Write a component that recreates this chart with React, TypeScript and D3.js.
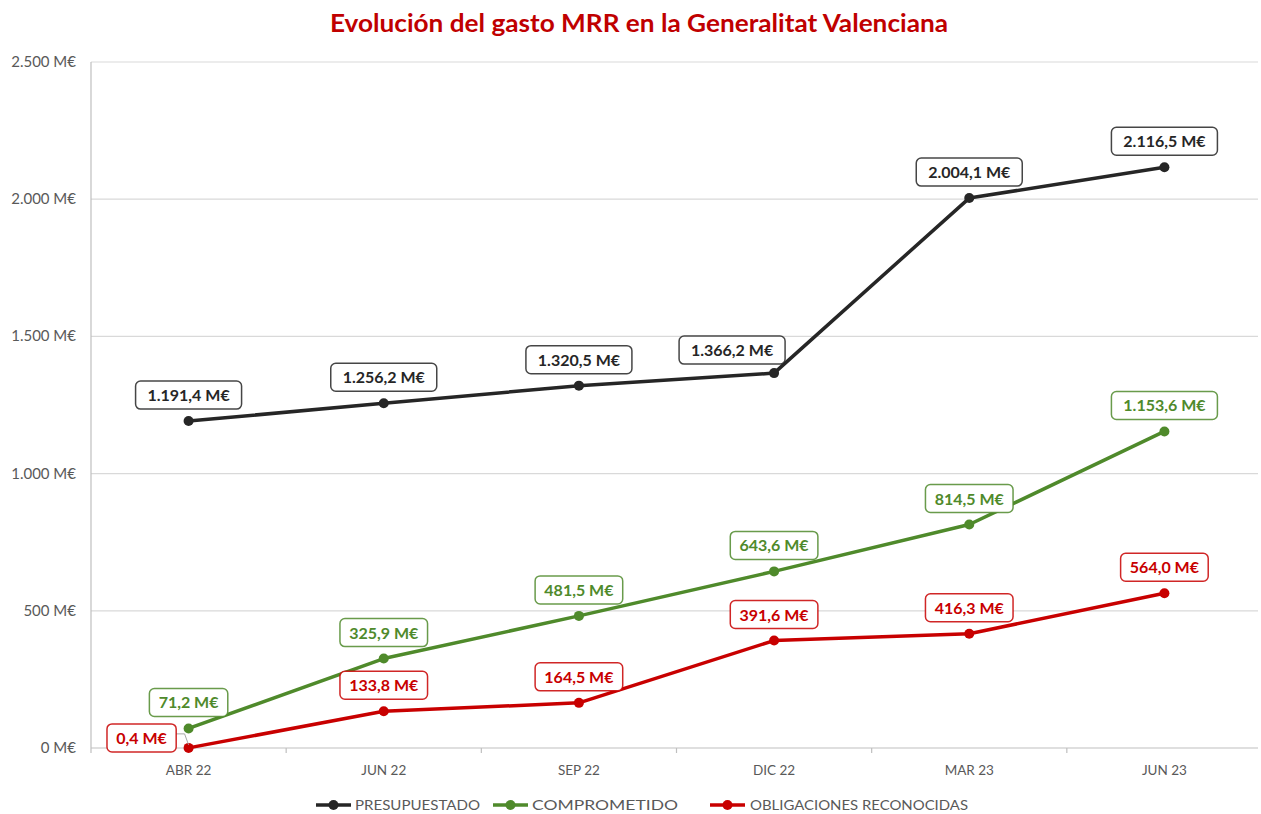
import React from "react";
import * as d3 from "d3";

const categories = ["ABR 22", "JUN 22", "SEP 22", "DIC 22", "MAR 23", "JUN 23"];
const presupuestado = [1191.4, 1256.2, 1320.5, 1366.2, 2004.1, 2116.5];
const comprometido = [71.2, 325.9, 481.5, 643.6, 814.5, 1153.6];
const obligaciones = [0.4, 133.8, 164.5, 391.6, 416.3, 564.0];
const yTicks = [0, 500, 1000, 1500, 2000, 2500];

const W = 1261, H = 814;
const m = { left: 91, right: 1262, top: 62, bottom: 748 };
const FONT = "Lato, 'Open Sans', sans-serif";

const fmt = (v: number) => {
  const s = v.toFixed(1).replace(".", ",");
  const [i, d] = s.split(",");
  const ii = i.replace(/\B(?=(\d{3})+(?!\d))/g, ".");
  return `${ii},${d} M€`;
};
const fmtTick = (v: number) => (v === 0 ? "0 M€" : `${d3.format(",")(v).replace(/,/g, ".")} M€`);

const series = [
  { name: "PRESUPUESTADO", values: presupuestado, color: "#262626", text: "#262626" },
  { name: "COMPROMETIDO", values: comprometido, color: "#4F8A2B", text: "#4F8A2B" },
  { name: "OBLIGACIONES RECONOCIDAS", values: obligaciones, color: "#C80000", text: "#C80000" },
];

export default function App() {
  const x = d3.scaleBand<string>().domain(categories).range([m.left, m.right]);
  const y = d3.scaleLinear().domain([0, 2500]).range([m.bottom, m.top]);
  const cx = (c: string) => (x(c) as number) + x.bandwidth() / 2;
  const line = d3
    .line<number>()
    .x((_, i) => cx(categories[i]))
    .y((v) => y(v));

  const legendItems = [
    { lx: 316, tx: 355, w: 125 },
    { lx: 493, tx: 532, w: 146 },
    { lx: 710, tx: 750, w: 218 },
  ];

  return (
    <svg width={W} height={H} style={{ display: "block", position: "absolute", left: 0, top: 0 }} fontFamily={FONT}>
      <rect width={W} height={H} fill="#fff" />
      <text x={639} y={32} textAnchor="middle" fontSize={25} fontWeight="bold" fill="#C00000" textLength={618} lengthAdjust="spacingAndGlyphs">
        Evolución del gasto MRR en la Generalitat Valenciana
      </text>
      {yTicks.map((t) => (
        <g key={t}>
          {t > 0 && <line x1={m.left} x2={m.right - 4} y1={y(t)} y2={y(t)} stroke="#D9D9D9" strokeWidth={1.2} />}
          <text x={76} y={y(t) + 5} textAnchor="end" fontSize={15} fill="#595959">
            {fmtTick(t)}
          </text>
        </g>
      ))}
      <line x1={m.left} x2={m.left} y1={m.top} y2={m.bottom + 5} stroke="#BFBFBF" strokeWidth={1.2} />
      <line x1={m.left} x2={m.right - 4} y1={m.bottom} y2={m.bottom} stroke="#BFBFBF" strokeWidth={1.2} />
      {categories.map((c, i) => (
        <g key={c}>
          {i > 0 && (
            <line x1={x(c)} x2={x(c)} y1={m.bottom} y2={m.bottom + 5} stroke="#BFBFBF" strokeWidth={1.2} />
          )}
          <text x={cx(c)} y={m.bottom + 27} textAnchor="middle" fontSize={13.5} fill="#595959">
            {c}
          </text>
        </g>
      ))}
      {series.map((s) => (
        <g key={s.name}>
          <path d={line(s.values) || ""} fill="none" stroke={s.color} strokeWidth={3.5} strokeLinejoin="round" />
          {s.values.map((v, i) => (
            <circle key={i} cx={cx(categories[i])} cy={y(v)} r={5} fill={s.color} />
          ))}
        </g>
      ))}
      {series.map((s) =>
        s.values.map((v, i) => {
          const px = cx(categories[i]);
          const py = y(v);
          const special = s.name === "OBLIGACIONES RECONOCIDAS" && i === 0;
          const shiftLeft = s.name === "PRESUPUESTADO" && i === 3;
          const bx = special ? px - 47 : shiftLeft ? px - 42 : px;
          const by = special ? py - 10 : shiftLeft ? py - 23 : py - 26;
          const label = fmt(v);
          const bw = label.length * 9.2 + 14;
          const bh = 28;
          return (
            <g key={s.name + i}>
              {special && (
                <polyline
                  points={`${bx + bw / 2},${by - 4} ${px - 4},${by - 4} ${px},${py - 3}`}
                  fill="none"
                  stroke="#A6A6A6"
                  strokeWidth={1}
                />
              )}
              <rect
                x={bx - bw / 2}
                y={by - bh / 2}
                width={bw}
                height={bh}
                rx={5}
                fill="#fff"
                stroke={s.color}
                strokeWidth={1.5}
                strokeOpacity={0.85}
              />
              <text x={bx} y={by + 6} textAnchor="middle" fontSize={16} fontWeight="bold" fill={s.text}>
                {label}
              </text>
            </g>
          );
        })
      )}
      {series.map((s, i) => {
        const it = legendItems[i];
        return (
          <g key={s.name}>
            <line x1={it.lx} x2={it.lx + 35} y1={805} y2={805} stroke={s.color} strokeWidth={3.5} />
            <circle cx={it.lx + 17.5} cy={805} r={5} fill={s.color} />
            <text x={it.tx} y={810} fontSize={14} fill="#595959" textLength={it.w} lengthAdjust="spacingAndGlyphs">
              {s.name}
            </text>
          </g>
        );
      })}
    </svg>
  );
}
